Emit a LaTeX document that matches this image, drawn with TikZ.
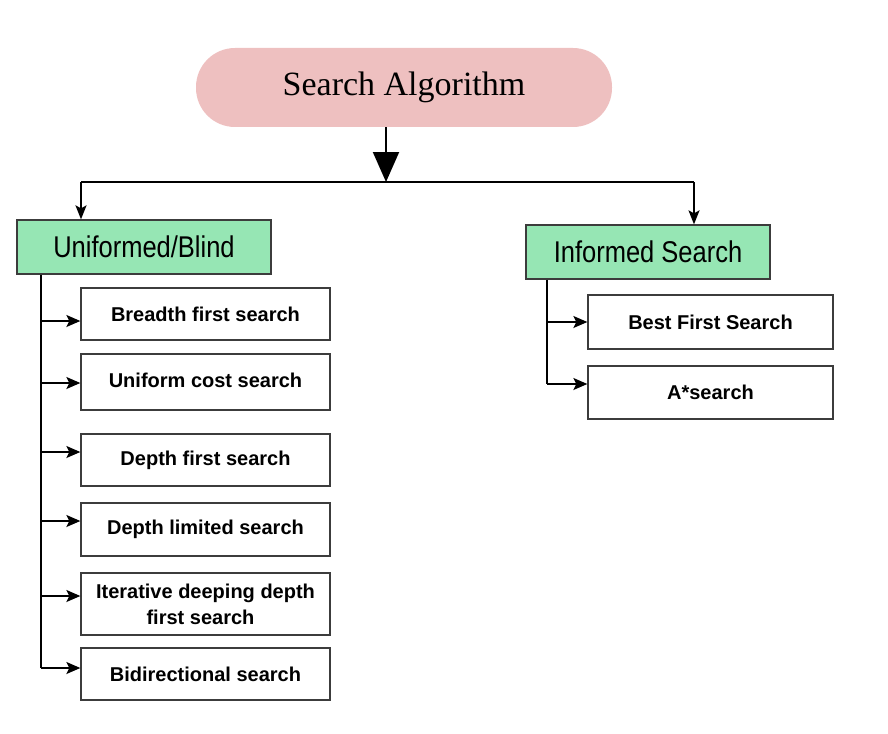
\documentclass[tikz,border=0pt]{standalone}
\usepackage{fontspec}
\setmainfont{Liberation Serif}
\setsansfont{Liberation Sans}
\usetikzlibrary{arrows.meta}
\definecolor{rootpink}{RGB}{238,192,192}
\definecolor{hdrgreen}{RGB}{150,230,180}
\definecolor{edgegray}{RGB}{60,60,60}
\tikzset{
  rootbox/.style={rounded corners=39pt, fill=rootpink, draw=none, minimum width=416pt, minimum height=79pt, inner sep=0pt, font=\fontsize{34}{38}\selectfont},
  hdrbox/.style={fill=hdrgreen, draw=edgegray, line width=1.3pt, minimum height=54pt, inner sep=0pt, font=\sffamily\fontsize{30}{32}\selectfont},
  leafbox/.style={fill=white, draw=edgegray, line width=1.3pt, minimum width=249pt, inner sep=0pt, align=center, font=\sffamily\bfseries\fontsize{20}{26}\selectfont},
  conn/.style={line width=2pt, black},
  smallarr/.style={line width=1.6pt, -{Stealth[length=14pt,width=12pt,inset=3pt]}},
}
\begin{document}
\begin{tikzpicture}[x=1pt,y=-1pt]
\useasboundingbox (0,0) rectangle (888,733);
% root
\node[rootbox] (root) at (404,87.5) {Search Algorithm};
% headers
\node[hdrbox, minimum width=254pt] (uni) at (144,247) {\scalebox{0.85}[1]{Uniformed/Blind}};
\node[hdrbox, minimum width=244pt] (inf) at (648,252) {\scalebox{0.85}[1]{Informed Search}};
% left leaves
\node[leafbox, minimum height=52pt] (b1) at (205.5,314) {Breadth first search};
\node[leafbox, minimum height=56pt] (b2) at (205.5,382) {\raisebox{3pt}{Uniform cost search}};
\node[leafbox, minimum height=52pt] (b3) at (205.5,460) {\raisebox{-2pt}{Depth first search}};
\node[leafbox, minimum height=53pt] (b4) at (205.5,529.5) {Depth limited search};
\node[leafbox, minimum height=62pt] (b5) at (205.5,604) {Iterative deeping depth\\\hspace*{-10pt}first search};
\node[leafbox, minimum height=52pt] (b6) at (205.5,674) {Bidirectional search};
% right leaves
\node[leafbox, minimum width=245pt, minimum height=54pt] (r1) at (710.5,322) {Best First Search};
\node[leafbox, minimum width=245pt, minimum height=53pt] (r2) at (710.5,392.5) {A*search};
% connectors
\coordinate (jn) at (386,182);
\coordinate (hl) at (81,182);
\coordinate (hr) at (694,182);
\draw[conn, -{Triangle[length=30pt,width=26pt]}] (root.south -| jn) -- (jn);
\draw[conn] (hl) -- (hr);
\draw[line width=1.6pt, -{Stealth[length=14pt,width=11pt,inset=3pt]}] (hl) -- (hl |- uni.north);
\draw[line width=1.6pt, -{Stealth[length=14pt,width=11pt,inset=3pt]}] (hr) -- (hr |- inf.north);
% left spine
\coordinate (ls) at (41,274);
\coordinate (le) at (41,668);
\draw[conn] (uni.south -| ls) -- (le);
\foreach \n/\y in {b1/321,b2/383,b3/452,b4/521,b5/596,b6/668}{
  \draw[smallarr] (41,\y) -- (\n.west |- 0,\y);
}
% right spine
\coordinate (rs) at (547,279);
\coordinate (re) at (547,384);
\draw[conn] (inf.south -| rs) -- (re);
\draw[smallarr] (547,322) -- (r1.west |- 0,322);
\draw[smallarr] (re) -- (r2.west |- re);
\end{tikzpicture}
\end{document}
